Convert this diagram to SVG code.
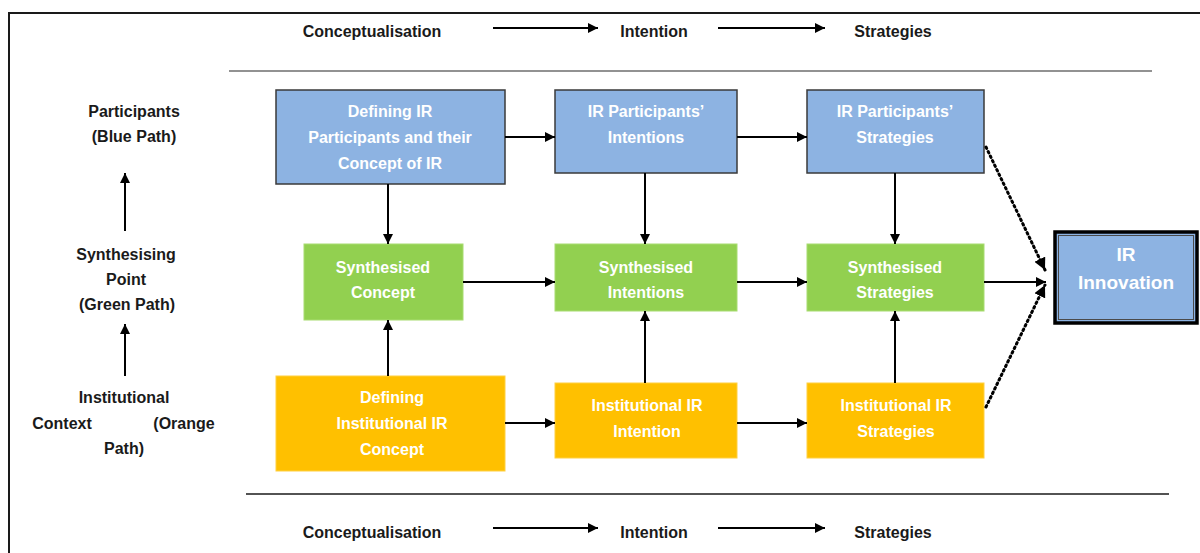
<svg xmlns="http://www.w3.org/2000/svg" width="1200" height="553" viewBox="0 0 1200 553">
  <style>
    .lbl { font-family: "Liberation Sans", Arial, sans-serif; font-size: 16px; font-weight: 600; fill: #1a1a1a; text-anchor: middle; }
    .box-t { font-family: "Liberation Sans", Arial, sans-serif; font-size: 16px; font-weight: 700; fill: #ffffff; text-anchor: middle; }
    .big-t { font-family: "Liberation Sans", Arial, sans-serif; font-size: 19px; font-weight: 700; fill: #ffffff; text-anchor: middle; }
    .blue { fill: #8db3e2; stroke: #3a3a3a; stroke-width: 1.5; }
    .green { fill: #92d050; stroke: #a8dc70; stroke-width: 1; }
    .orange { fill: #ffc000; stroke: #ffd040; stroke-width: 1; }
    .conn { stroke: #000; stroke-width: 2; fill: none; }
    .dot { stroke: #000; stroke-width: 3; fill: none; stroke-dasharray: 1.5 3.5; stroke-linecap: round; }
  </style>
  <defs>
    <marker id="ah" viewBox="0 0 10 10" refX="10" refY="5" markerWidth="5.5" markerHeight="5" orient="auto" markerUnits="strokeWidth">
      <path d="M0,0 L10,5 L0,10 z" fill="#000"/>
    </marker>
    <marker id="ahd" viewBox="0 0 10 10" refX="10" refY="5" markerWidth="4" markerHeight="4" orient="auto" markerUnits="strokeWidth">
      <path d="M0,0 L10,5 L0,10 z" fill="#000"/>
    </marker>
  </defs>

  <rect width="1200" height="553" fill="#ffffff"/>
  <!-- outer frame -->
  <rect x="9" y="13" width="1200" height="560" fill="none" stroke="#1a1a1a" stroke-width="2"/>

  <!-- header stage row -->
  <g id="header">
    <text class="lbl" x="372" y="37">Conceptualisation</text>
    <text class="lbl" x="654" y="37">Intention</text>
    <text class="lbl" x="893" y="37">Strategies</text>
    <line class="conn" x1="493" y1="28" x2="598" y2="28" marker-end="url(#ah)"/>
    <line class="conn" x1="718" y1="28" x2="825" y2="28" marker-end="url(#ah)"/>
    <line x1="229" y1="71" x2="1152" y2="71" stroke="#6e6e6e" stroke-width="1.5"/>
  </g>

  <!-- footer stage row -->
  <g id="footer">
    <line x1="246" y1="494" x2="1169" y2="494" stroke="#1a1a1a" stroke-width="1.5"/>
    <text class="lbl" x="372" y="538">Conceptualisation</text>
    <text class="lbl" x="654" y="538">Intention</text>
    <text class="lbl" x="893" y="538">Strategies</text>
    <line class="conn" x1="493" y1="528" x2="598" y2="528" marker-end="url(#ah)"/>
    <line class="conn" x1="718" y1="528" x2="825" y2="528" marker-end="url(#ah)"/>
  </g>

  <!-- path legend on the left -->
  <g id="legend">
    <text class="lbl" x="134" y="117">Participants</text>
    <text class="lbl" x="134" y="142">(Blue Path)</text>
    <line class="conn" x1="125" y1="231" x2="125" y2="173" marker-end="url(#ah)"/>
    <text class="lbl" x="126" y="260">Synthesising</text>
    <text class="lbl" x="126" y="285">Point</text>
    <text class="lbl" x="127" y="310">(Green Path)</text>
    <line class="conn" x1="125" y1="376" x2="125" y2="324" marker-end="url(#ah)"/>
    <text class="lbl" x="124" y="403">Institutional</text>
    <text class="lbl" x="62" y="429">Context</text>
    <text class="lbl" x="184" y="429">(Orange</text>
    <text class="lbl" x="124" y="454">Path)</text>
  </g>

  <!-- blue row: participants -->
  <g id="blue-concept">
    <rect class="blue" x="276" y="90" width="229" height="94"/>
    <text class="box-t" x="390" y="117">Defining IR</text>
    <text class="box-t" x="390" y="143">Participants and their</text>
    <text class="box-t" x="390" y="169">Concept of IR</text>
  </g>
  <g id="blue-intentions">
    <rect class="blue" x="555" y="90" width="182" height="83"/>
    <text class="box-t" x="646" y="117">IR Participants’</text>
    <text class="box-t" x="646" y="143">Intentions</text>
  </g>
  <g id="blue-strategies">
    <rect class="blue" x="807" y="90" width="177" height="83"/>
    <text class="box-t" x="895" y="117">IR Participants’</text>
    <text class="box-t" x="895" y="143">Strategies</text>
  </g>

  <!-- green row: synthesis -->
  <g id="green-concept">
    <rect class="green" x="304" y="244" width="159" height="76"/>
    <text class="box-t" x="383" y="273">Synthesised</text>
    <text class="box-t" x="383" y="298">Concept</text>
  </g>
  <g id="green-intentions">
    <rect class="green" x="555" y="244" width="182" height="67"/>
    <text class="box-t" x="646" y="273">Synthesised</text>
    <text class="box-t" x="646" y="298">Intentions</text>
  </g>
  <g id="green-strategies">
    <rect class="green" x="807" y="244" width="177" height="67"/>
    <text class="box-t" x="895" y="273">Synthesised</text>
    <text class="box-t" x="895" y="298">Strategies</text>
  </g>

  <!-- orange row: institutional -->
  <g id="orange-concept">
    <rect class="orange" x="276" y="376" width="229" height="95"/>
    <text class="box-t" x="392" y="403">Defining</text>
    <text class="box-t" x="392" y="429">Institutional IR</text>
    <text class="box-t" x="392" y="455">Concept</text>
  </g>
  <g id="orange-intention">
    <rect class="orange" x="555" y="383" width="182" height="75"/>
    <text class="box-t" x="647" y="411">Institutional IR</text>
    <text class="box-t" x="647" y="437">Intention</text>
  </g>
  <g id="orange-strategies">
    <rect class="orange" x="807" y="383" width="177" height="75"/>
    <text class="box-t" x="896" y="411">Institutional IR</text>
    <text class="box-t" x="896" y="437">Strategies</text>
  </g>

  <!-- outcome -->
  <g id="innovation">
    <rect x="1055" y="232" width="142" height="91" fill="#8db3e2" stroke="#000" stroke-width="3.5"/>
    <rect x="1058.5" y="235.5" width="135" height="84" fill="none" stroke="#4a4a4a" stroke-width="1"/>
    <text class="big-t" x="1126" y="261">IR</text>
    <text class="big-t" x="1126" y="289">Innovation</text>
  </g>

  <!-- connectors -->
  <g id="connectors">
    <line class="conn" x1="505" y1="137" x2="555" y2="137" marker-end="url(#ah)"/>
    <line class="conn" x1="737" y1="137" x2="807" y2="137" marker-end="url(#ah)"/>
    <line class="conn" x1="388" y1="184" x2="388" y2="244" marker-end="url(#ah)"/>
    <line class="conn" x1="645" y1="173" x2="645" y2="244" marker-end="url(#ah)"/>
    <line class="conn" x1="895" y1="173" x2="895" y2="244" marker-end="url(#ah)"/>
    <line class="conn" x1="463" y1="282" x2="555" y2="282" marker-end="url(#ah)"/>
    <line class="conn" x1="737" y1="282" x2="807" y2="282" marker-end="url(#ah)"/>
    <line class="conn" x1="984" y1="282" x2="1046" y2="282" marker-end="url(#ah)"/>
    <line class="conn" x1="388" y1="376" x2="388" y2="320" marker-end="url(#ah)"/>
    <line class="conn" x1="645" y1="383" x2="645" y2="311" marker-end="url(#ah)"/>
    <line class="conn" x1="895" y1="383" x2="895" y2="311" marker-end="url(#ah)"/>
    <line class="conn" x1="505" y1="423" x2="555" y2="423" marker-end="url(#ah)"/>
    <line class="conn" x1="737" y1="423" x2="807" y2="423" marker-end="url(#ah)"/>
    <line class="dot" x1="986" y1="147" x2="1045" y2="270" marker-end="url(#ahd)"/>
    <line class="dot" x1="986" y1="407" x2="1045" y2="285" marker-end="url(#ahd)"/>
  </g>
</svg>
